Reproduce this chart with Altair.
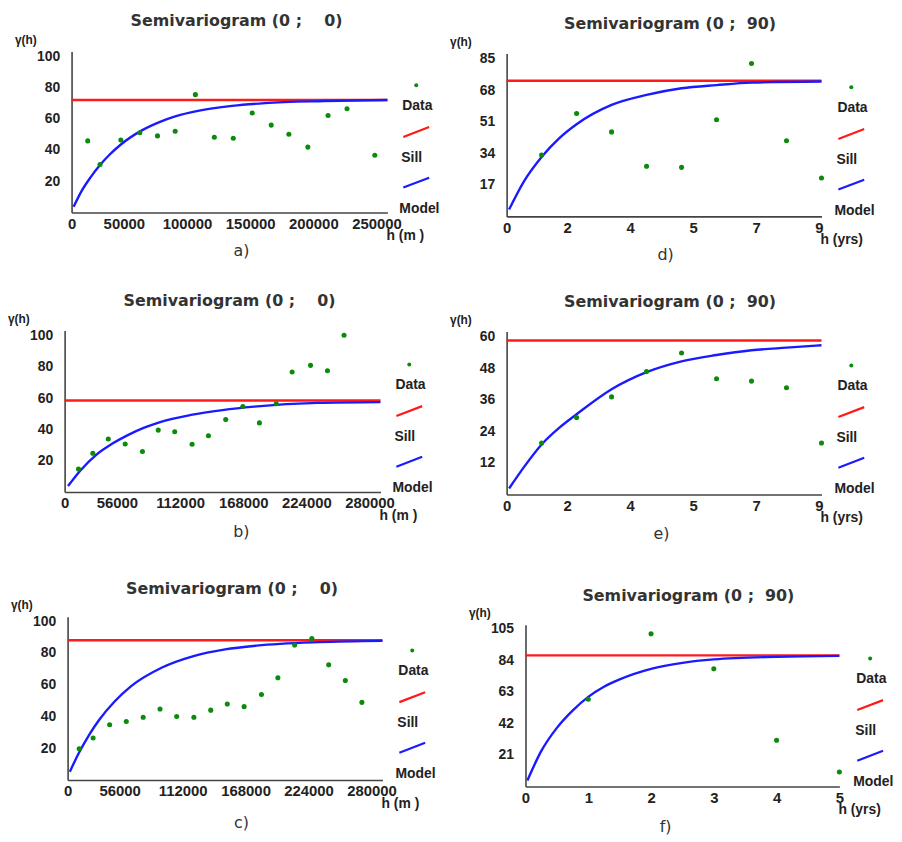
import altair as alt
import pandas as pd

FONT = "Liberation Sans"
TFONT = "DejaVu Sans"
RED = "#ff1a1a"
BLUE = "#1a1aff"
GREEN = "#0b8a0b"
INK = "#222222"

# ---------------- a) ----------------
a_lag = [12800, 22500, 39000, 54000, 68000, 82000, 98000, 113000, 128000, 143000,
         158000, 172000, 187000, 203000, 218000, 240000]
a_gamma = [45.8, 30.7, 46.4, 51, 49, 52, 75.4, 48.1, 47.5, 63.7, 55.9, 50, 41.8, 62, 66.4, 36.6]
a_model_lag = [1600, 8000, 15000, 22500, 30000, 39000, 56000, 70000, 82000, 100000, 127000,
               153000, 200000, 250000]
a_model_gamma = [3.6, 13.8, 22.4, 30.3, 36.9, 43.5, 52.7, 58, 61.5, 65, 68.2, 70, 71.3, 72]
a_sill = 72
a_xticks = [0, 50000, 100000, 150000, 200000, 250000]
a_yticks = [20, 40, 60, 80, 100]

# ---------------- b) ----------------
b_lag = [12300, 25000, 38700, 53700, 69000, 83000, 97600, 113000, 127500, 142800,
         158000, 172700, 187600, 201700, 218000, 233000, 247700]
b_gamma = [14.7, 24.8, 33.9, 30.7, 25.9, 39.6, 38.5, 30.5, 36, 46.3, 54.7, 44.2,
           56.4, 76.8, 81, 77.5, 100.2]
b_model_lag = [3000, 14000, 28000, 42000, 56000, 70000, 84000, 112000, 140000, 168000, 224000, 280000]
b_model_gamma = [3.8, 13.8, 23.8, 30.8, 36.4, 41, 44.6, 49.3, 52.4, 54.6, 57, 57.5]
b_sill = 58.5
b_xticks = [0, 56000, 112000, 168000, 224000, 280000]
b_yticks = [20, 40, 60, 80, 100]

# ---------------- c) ----------------
c_lag = [10300, 22700, 37400, 52200, 67200, 82200, 97000, 112300, 127300, 142000,
         157000, 172400, 187000, 201900, 217200, 232200, 247000, 261700]
c_gamma = [19.7, 26.5, 34.8, 36.9, 39.5, 44.7, 40, 39.5, 44, 47.8, 46.2, 53.8,
           64.4, 85, 89, 72.5, 62.7, 48.9]
c_model_lag = [2000, 10000, 20000, 28000, 42000, 56000, 84000, 112000, 140000, 168000,
               224000, 280000]
c_model_gamma = [5.3, 17, 29.4, 37.8, 49.6, 58.8, 70.8, 78, 82.2, 84.6, 86.8, 87.6]
c_sill = 88
c_xticks = [0, 56000, 112000, 168000, 224000, 280000]
c_yticks = [20, 40, 60, 80, 100]

# ---------------- d) ----------------
d_lag = [1, 2, 3, 4, 5, 6, 7, 8, 9]
d_gamma = [33, 55.4, 45.5, 27, 26.4, 52, 82.3, 40.7, 20.7]
d_model_lag = [0.07, 0.5, 1, 1.5, 2, 3, 4, 5, 6, 7, 9]
d_model_gamma = [3.7, 19, 32, 42, 49.6, 60, 65.4, 69, 70.7, 72, 72.6]
d_sill = 73
d_xticks = [0, 1.8, 3.6, 5.4, 7.2, 9]
d_yticks = [17, 34, 51, 68, 85]

# ---------------- e) ----------------
e_lag = [1, 2, 3, 4, 5, 6, 7, 8, 9]
e_gamma = [19.6, 29.3, 37.1, 46.7, 53.8, 44, 43.1, 40.6, 19.6]
e_model_lag = [0.07, 0.5, 1, 1.5, 2, 3, 4, 5, 6, 7, 8, 9]
e_model_gamma = [2.3, 10.5, 19, 25.3, 30.5, 40, 46.5, 50.6, 53, 54.8, 55.8, 56.7]
e_sill = 58.5
e_xticks = [0, 1.8, 3.6, 5.4, 7.2, 9]
e_yticks = [12, 24, 36, 48, 60]

# ---------------- f) ----------------
f_lag = [1, 2, 3, 4, 5]
f_gamma = [58, 101.6, 78.2, 30.8, 9.7]
f_model_lag = [0.03, 0.25, 0.5, 0.75, 1, 1.25, 1.5, 2, 2.5, 3, 4, 5]
f_model_gamma = [4, 23.5, 39, 50.5, 59.6, 66.3, 71.2, 78.2, 82.2, 84.5, 86.2, 86.8]
f_sill = 87.2
f_xticks = [0, 1, 2, 3, 4, 5]
f_yticks = [21, 42, 63, 84, 105]

SP0 = "\u00a0"
panels = [
    dict(lag=a_lag, gamma=a_gamma, mlag=a_model_lag, mgamma=a_model_gamma, sill=a_sill,
         xticks=a_xticks, yticks=a_yticks, xmax=250000, ymax=103, W=318, H=162, dx=7, dy=0,
         title="Semivariogram (0 ;" + SP0 * 4 + "0)", tdx=7, tdy=-31, unit="h (m )",
         letter="a)", lx=171, ly=39, xoff=-11, xfmt="d"),
    dict(lag=d_lag, gamma=d_gamma, mlag=d_model_lag, mgamma=d_model_gamma, sill=d_sill,
         xticks=d_xticks, yticks=d_yticks, xmax=9, ymax=87.7, W=317, H=164, dx=0, dy=2,
         title="Semivariogram (0 ;" + SP0 * 2 + "90)", tdx=6, tdy=-30, unit="h (yrs)",
         letter="d)", lx=160, ly=39, xoff=-2.5, xfmt=".0f"),
    dict(lag=b_lag, gamma=b_gamma, mlag=b_model_lag, mgamma=b_model_gamma, sill=b_sill,
         xticks=b_xticks, yticks=b_yticks, xmax=280000, ymax=103.2, W=318, H=162.5, dx=0, dy=0,
         title="Semivariogram (0 ;" + SP0 * 4 + "0)", tdx=7, tdy=-30, unit="h (m )",
         letter="b)", lx=178, ly=40, xoff=-11, xfmt="d"),
    dict(lag=e_lag, gamma=e_gamma, mlag=e_model_lag, mgamma=e_model_gamma, sill=e_sill,
         xticks=e_xticks, yticks=e_yticks, xmax=9, ymax=61.9, W=317, H=164, dx=0, dy=1,
         title="Semivariogram (0 ;" + SP0 * 2 + "90)", tdx=6, tdy=-30, unit="h (yrs)",
         letter="e)", lx=156, ly=39.5, xoff=-2.5, xfmt=".0f"),
    dict(lag=c_lag, gamma=c_gamma, mlag=c_model_lag, mgamma=c_model_gamma, sill=c_sill,
         xticks=c_xticks, yticks=c_yticks, xmax=280000, ymax=102.8, W=317, H=164.5, dx=3, dy=8,
         title="Semivariogram (0 ;" + SP0 * 4 + "0)", tdx=7, tdy=-28, unit="h (m )",
         letter="c)", lx=175, ly=43, xoff=-11, xfmt="d"),
    dict(lag=f_lag, gamma=f_gamma, mlag=f_model_lag, mgamma=f_model_gamma, sill=f_sill,
         xticks=f_xticks, yticks=f_yticks, xmax=5, ymax=107.6, W=316, H=163, dx=19, dy=16,
         title="Semivariogram (0 ;" + SP0 * 2 + "90)", tdx=6, tdy=-29, unit="h (yrs)",
         letter="f)", lx=141, ly=41, xoff=0, xfmt=".0f"),
]


def build(p):
    dx, dy, W, H = p["dx"], p["dy"], p["W"], p["H"]
    xs = alt.Scale(domain=[0, p["xmax"]], range=[dx, dx + W], nice=False, zero=False)
    ys = alt.Scale(domain=[0, p["ymax"]], range=[dy + H, dy], nice=False, zero=False)
    xaxis = alt.Axis(values=p["xticks"], title=None, grid=False, ticks=False,
                     domainColor="#444444", domainWidth=1.6, format=p["xfmt"],
                     labelFont=FONT, labelFontSize=15, labelFontWeight="bold",
                     labelColor=INK, labelPadding=4, labelFlush=False, labelOverlap=False,
                     labelOffset={"condition": {"test": "datum.value == 0", "value": 0},
                                  "value": p["xoff"]})
    yaxis = alt.Axis(values=p["yticks"], title=None, grid=False, ticks=False,
                     domainColor="#444444", domainWidth=1.6, offset=-dx,
                     labelFont=FONT, labelFontSize=14, labelFontWeight="bold",
                     labelColor=INK, labelPadding=12, labelOverlap=False)
    X = alt.X("h:Q", scale=xs, axis=xaxis)
    Y = alt.Y("g:Q", scale=ys, axis=yaxis)

    sill_df = pd.DataFrame({"h": [0, p["xmax"]], "g": [p["sill"], p["sill"]]})
    mdl_df = pd.DataFrame({"h": p["mlag"], "g": p["mgamma"]})
    pts_df = pd.DataFrame({"h": p["lag"], "g": p["gamma"]})
    one = pd.DataFrame({"k": [0]})

    sill = alt.Chart(sill_df).mark_line(color=RED, strokeWidth=2.4).encode(x=X, y=Y)
    model = alt.Chart(mdl_df).mark_line(color=BLUE, strokeWidth=2.4,
                                        interpolate="monotone").encode(x=X, y=Y)
    pts = alt.Chart(pts_df).mark_circle(color=GREEN, size=26, opacity=1).encode(x=X, y=Y)

    def txt(s, x, y, size, font=FONT, weight="bold", align="left", color=INK):
        return alt.Chart(one).mark_text(text=s, font=font, fontSize=size, fontWeight=weight,
                                        align=align, baseline="middle", color=color).encode(
            x=alt.value(x), y=alt.value(y))

    def seg(x1, y1, x2, y2, color):
        return alt.Chart(one).mark_rule(color=color, strokeWidth=2.2).encode(
            x=alt.value(x1), y=alt.value(y1), x2=alt.value(x2), y2=alt.value(y2))

    leg_dot = alt.Chart(one).mark_circle(color=GREEN, size=16, opacity=1).encode(
        x=alt.value(dx + 347), y=alt.value(dy + 34))
    layers = [
        sill, model, pts, leg_dot,
        txt("Data", dx + 333, dy + 55, 14),
        seg(dx + 334, dy + 86, dx + 360, dy + 76, RED),
        txt("Sill", dx + 332, dy + 107, 14),
        seg(dx + 334, dy + 137, dx + 360, dy + 127, BLUE),
        txt("Model", dx + 330, dy + 158.5, 14),
        txt(p["title"], dx + W / 2 + p["tdx"], dy + p["tdy"], 16, font=TFONT,
            align="center", color="#333333"),
        txt("\u03b3(h)", dx - 57, dy - 12, 12),
        txt(p["unit"], dx + W - 1, dy + H + 24, 14),
        txt(p["letter"], dx + p["lx"], dy + H + p["ly"], 16, font=TFONT, weight="normal",
            align="center", color="#333333"),
    ]
    return alt.layer(*layers).properties(width=dx + W, height=dy + H)


charts = [build(p) for p in panels]
chart = alt.concat(*charts, columns=2, spacing={"row": 115, "column": 120},
                   bounds="flush", align="each").resolve_scale(
    x="independent", y="independent").properties(
    padding={"left": 0, "top": 2, "right": 0, "bottom": 0}, background="white"
).configure_view(stroke=None)

chart.save("out.html", embed_options={"renderer": "svg", "actions": False})
